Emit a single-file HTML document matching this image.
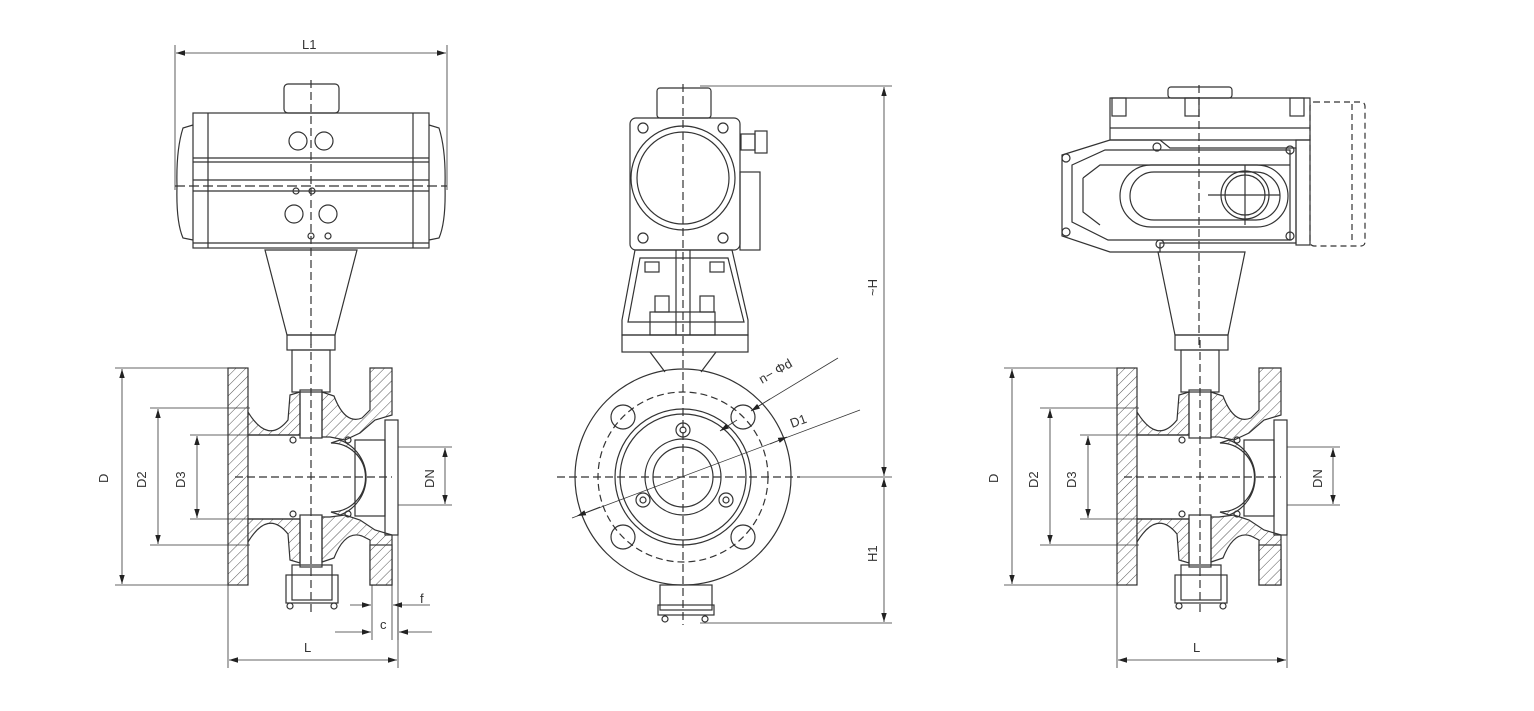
<!DOCTYPE html>
<html><head><meta charset="utf-8"><style>
html,body{margin:0;padding:0;background:#fff;}
svg{display:block;}
text{font-family:"Liberation Sans",sans-serif;font-size:13px;fill:#333;}
</style></head><body>
<svg width="1534" height="711" viewBox="0 0 1534 711" xmlns="http://www.w3.org/2000/svg">
<defs>
<pattern id="h" width="7" height="7" patternUnits="userSpaceOnUse" patternTransform="rotate(45)">
<rect width="7" height="7" fill="#fff"/><line x1="0" y1="0" x2="0" y2="7" stroke="#555" stroke-width="1"/>
</pattern>
<marker id="a" viewBox="0 0 10 10" refX="10" refY="5" markerWidth="9" markerHeight="9" orient="auto-start-reverse" markerUnits="userSpaceOnUse">
<path d="M0,2 L10,5 L0,8 Z" fill="#222"/></marker>
<g id="body" fill="none" stroke="#333" stroke-width="1.2">
<rect x="228" y="368" width="20" height="217" fill="url(#h)"/>
<path d="M248,412 Q268,445 288,420 L290,395 L300,392 L300,435 L248,435 Z" fill="url(#h)"/>
<path d="M248,542 Q268,509 288,534 L290,560 L300,563 L300,519 L248,519 Z" fill="url(#h)"/>
<path d="M322,392 L334,396 Q345,425 362,418 L370,410 L370,368 L392,368 L392,415 L375,420 L360,433 L345,440 L330,437 L322,437 Z" fill="url(#h)"/>
<path d="M322,562 L334,558 Q345,530 362,536 L370,540 L370,585 L392,585 L392,535 L375,530 L360,520 L345,515 L330,517 L322,517 Z" fill="url(#h)"/>
<rect x="370" y="545" width="22" height="40" fill="url(#h)"/>
<path d="M340,440 A40,40 0 0 1 340,515 L331,512 A34,34 0 0 0 331,443 Z" fill="url(#h)"/>
<rect x="300" y="390" width="22" height="48"/>
<rect x="300" y="515" width="22" height="52"/>
<rect x="292" y="350" width="38" height="42"/>
<line x1="248" y1="435" x2="300" y2="435"/><line x1="248" y1="519" x2="300" y2="519"/>
<rect x="355" y="440" width="30" height="76"/>
<rect x="385" y="420" width="13" height="115"/>
<rect x="292" y="565" width="40" height="35"/>
<rect x="286" y="575" width="52" height="28"/>
<circle cx="290" cy="606" r="3"/><circle cx="334" cy="606" r="3"/>
<circle cx="293" cy="440" r="3"/><circle cx="293" cy="514" r="3"/><circle cx="348" cy="440" r="3"/><circle cx="348" cy="514" r="3"/>
<line x1="311" y1="340" x2="311" y2="612" stroke-dasharray="8,4"/>
<line x1="235" y1="477" x2="392" y2="477" stroke-dasharray="8,4"/>
</g>
</defs>
<g fill="none" stroke="#333" stroke-width="1.2">
<!-- LEFT VIEW actuator -->
<line x1="175" y1="45" x2="175" y2="190" stroke-width="0.8"/><line x1="447" y1="45" x2="447" y2="190" stroke-width="0.8"/>
<line x1="176" y1="53" x2="446" y2="53" stroke-width="0.8" marker-start="url(#a)" marker-end="url(#a)"/>
<rect x="284" y="84" width="55" height="29" rx="4"/>
<rect x="193" y="113" width="236" height="135"/>
<line x1="208" y1="113" x2="208" y2="248"/><line x1="413" y1="113" x2="413" y2="248"/>
<path d="M193,125 L183,128 Q176,150 177,186 Q176,222 183,238 L193,240"/>
<path d="M429,125 L439,128 Q446,150 445,186 Q446,222 439,238 L429,240"/>
<line x1="193" y1="158" x2="429" y2="158"/><line x1="193" y1="162" x2="429" y2="162"/>
<line x1="193" y1="180" x2="429" y2="180"/><line x1="193" y1="191" x2="429" y2="191"/><line x1="193" y1="243" x2="429" y2="243"/>
<line x1="175" y1="186" x2="447" y2="186" stroke-dasharray="10,4"/>
<circle cx="298" cy="141" r="9"/><circle cx="324" cy="141" r="9"/>
<circle cx="296" cy="191" r="3"/><circle cx="312" cy="191" r="3"/>
<circle cx="294" cy="214" r="9"/><circle cx="328" cy="214" r="9"/>
<circle cx="311" cy="236" r="3"/><circle cx="328" cy="236" r="3"/>
<path d="M265,250 L357,250 L335,335 L287,335 Z"/>
<rect x="287" y="335" width="48" height="15"/>
<line x1="311" y1="80" x2="311" y2="345" stroke-dasharray="8,4"/>
<use href="#body"/>
<!-- left dims -->
<g stroke-width="0.8">
<line x1="115" y1="368" x2="228" y2="368"/><line x1="115" y1="585" x2="228" y2="585"/>
<line x1="122" y1="369" x2="122" y2="584" marker-start="url(#a)" marker-end="url(#a)"/>
<line x1="150" y1="408" x2="250" y2="408"/><line x1="150" y1="545" x2="250" y2="545"/>
<line x1="158" y1="409" x2="158" y2="544" marker-start="url(#a)" marker-end="url(#a)"/>
<line x1="190" y1="435" x2="248" y2="435"/><line x1="190" y1="519" x2="248" y2="519"/>
<line x1="197" y1="436" x2="197" y2="518" marker-start="url(#a)" marker-end="url(#a)"/>
<line x1="398" y1="447" x2="452" y2="447"/><line x1="398" y1="505" x2="452" y2="505"/>
<line x1="445" y1="448" x2="445" y2="504" marker-start="url(#a)" marker-end="url(#a)"/>
<line x1="228" y1="585" x2="228" y2="668"/><line x1="398" y1="535" x2="398" y2="668"/>
<line x1="229" y1="660" x2="397" y2="660" marker-start="url(#a)" marker-end="url(#a)"/>
<line x1="372" y1="585" x2="372" y2="640"/><line x1="392" y1="585" x2="392" y2="640"/>
<line x1="350" y1="605" x2="371" y2="605" marker-end="url(#a)"/><line x1="430" y1="605" x2="393" y2="605" marker-end="url(#a)"/>
<line x1="335" y1="632" x2="371" y2="632" marker-end="url(#a)"/><line x1="432" y1="632" x2="399" y2="632" marker-end="url(#a)"/>
<line x1="398" y1="605" x2="398" y2="640"/>
</g>
<!-- RIGHT VIEW -->
<use href="#body" x="889"/>
<path d="M1110,140 L1110,98 L1310,98 L1310,140 Z"/>
<rect x="1168" y="87" width="64" height="11" rx="3"/>
<rect x="1112" y="98" width="14" height="18"/><rect x="1185" y="98" width="14" height="18"/><rect x="1290" y="98" width="14" height="18"/>
<line x1="1110" y1="128" x2="1310" y2="128"/>
<path d="M1110,140 L1160,140 L1170,148 L1296,148 L1296,243 L1160,243 L1160,252 L1110,252 L1062,236 L1062,155 Z"/>
<path d="M1072,165 L1105,150 L1290,150 L1290,240 L1108,240 L1072,222 Z"/>
<path d="M1083,178 L1100,165 L1290,165 M1083,178 L1083,212 L1100,225"/>
<rect x="1120" y="165" width="168" height="62" rx="31"/>
<rect x="1130" y="172" width="150" height="48" rx="24"/>
<circle cx="1245" cy="195" r="24"/><circle cx="1245" cy="195" r="20"/>
<line x1="1208" y1="195" x2="1280" y2="195"/><line x1="1245" y1="165" x2="1245" y2="225"/>
<rect x="1296" y="140" width="14" height="105"/>
<rect x="1310" y="102" width="55" height="144" rx="4" stroke-dasharray="6,4"/>
<line x1="1352" y1="104" x2="1352" y2="244" stroke-dasharray="6,4"/>
<circle cx="1066" cy="158" r="4"/><circle cx="1066" cy="232" r="4"/><circle cx="1157" cy="147" r="4"/><circle cx="1290" cy="150" r="4"/><circle cx="1290" cy="236" r="4"/><circle cx="1160" cy="244" r="4"/>
<path d="M1158,252 L1245,252 L1228,335 L1175,335 Z"/>
<rect x="1175" y="335" width="53" height="15"/>
<line x1="1199" y1="85" x2="1199" y2="345" stroke-dasharray="8,4"/>
<g stroke-width="0.8">
<line x1="1004" y1="368" x2="1117" y2="368"/><line x1="1004" y1="585" x2="1117" y2="585"/>
<line x1="1012" y1="369" x2="1012" y2="584" marker-start="url(#a)" marker-end="url(#a)"/>
<line x1="1040" y1="408" x2="1139" y2="408"/><line x1="1040" y1="545" x2="1139" y2="545"/>
<line x1="1050" y1="409" x2="1050" y2="544" marker-start="url(#a)" marker-end="url(#a)"/>
<line x1="1080" y1="435" x2="1137" y2="435"/><line x1="1080" y1="519" x2="1137" y2="519"/>
<line x1="1088" y1="436" x2="1088" y2="518" marker-start="url(#a)" marker-end="url(#a)"/>
<line x1="1287" y1="447" x2="1340" y2="447"/><line x1="1287" y1="505" x2="1340" y2="505"/>
<line x1="1333" y1="448" x2="1333" y2="504" marker-start="url(#a)" marker-end="url(#a)"/>
<line x1="1117" y1="585" x2="1117" y2="668"/><line x1="1287" y1="535" x2="1287" y2="668"/>
<line x1="1118" y1="660" x2="1286" y2="660" marker-start="url(#a)" marker-end="url(#a)"/>
</g>
<!-- MIDDLE VIEW -->
<rect x="657" y="88" width="54" height="30" rx="3"/>
<rect x="630" y="118" width="110" height="132" rx="6"/>
<circle cx="683" cy="178" r="52"/><circle cx="683" cy="178" r="46"/>
<circle cx="643" cy="128" r="5"/><circle cx="723" cy="128" r="5"/><circle cx="643" cy="238" r="5"/><circle cx="723" cy="238" r="5"/>
<rect x="740" y="172" width="20" height="78"/>
<rect x="741" y="134" width="14" height="16"/><rect x="755" y="131" width="12" height="22"/>
<path d="M635,250 L732,250 L748,320 L748,335 L622,335 L622,320 Z"/>
<path d="M640,258 L728,258 L744,322 L628,322 Z"/>
<rect x="622" y="335" width="126" height="17"/>
<rect x="650" y="312" width="65" height="23"/><rect x="655" y="296" width="14" height="16"/><rect x="700" y="296" width="14" height="16"/>
<rect x="645" y="262" width="14" height="10"/><rect x="710" y="262" width="14" height="10"/>
<line x1="676" y1="250" x2="676" y2="335"/><line x1="690" y1="250" x2="690" y2="335"/>
<path d="M650,352 L665,372 M716,352 L701,372"/>
<circle cx="683" cy="477" r="108"/>
<circle cx="683" cy="477" r="85" stroke-dasharray="7,4"/>
<circle cx="683" cy="477" r="68"/><circle cx="683" cy="477" r="63"/>
<circle cx="683" cy="477" r="38"/><circle cx="683" cy="477" r="30"/>
<circle cx="623" cy="417" r="12"/><circle cx="743" cy="417" r="12"/><circle cx="623" cy="537" r="12"/><circle cx="743" cy="537" r="12"/>
<circle cx="683" cy="430" r="7"/><circle cx="683" cy="430" r="3"/><circle cx="643" cy="500" r="7"/><circle cx="643" cy="500" r="3"/><circle cx="726" cy="500" r="7"/><circle cx="726" cy="500" r="3"/>
<rect x="660" y="585" width="52" height="25"/><rect x="658" y="605" width="56" height="10"/>
<circle cx="665" cy="619" r="3"/><circle cx="705" cy="619" r="3"/>
<line x1="683" y1="84" x2="683" y2="625" stroke-dasharray="8,4"/>
<line x1="557" y1="477" x2="800" y2="477" stroke-dasharray="8,4"/>
<g stroke-width="0.8">
<line x1="800" y1="477" x2="892" y2="477"/>
<line x1="700" y1="86" x2="892" y2="86"/><line x1="700" y1="623" x2="892" y2="623"/>
<line x1="884" y1="87" x2="884" y2="476" marker-start="url(#a)" marker-end="url(#a)"/>
<line x1="884" y1="478" x2="884" y2="622" marker-start="url(#a)" marker-end="url(#a)"/>
<line x1="838" y1="358" x2="752" y2="410" /><line x1="770" y1="399" x2="751" y2="411" marker-end="url(#a)"/>
<line x1="720" y1="431" x2="737" y2="420" marker-start="url(#a)"/>
<line x1="572" y1="518" x2="860" y2="410"/>
<line x1="600" y1="507" x2="577" y2="516" marker-end="url(#a)"/>
<line x1="770" y1="444" x2="787" y2="437" marker-end="url(#a)"/>
</g>
</g>
<!-- labels -->
<text x="302" y="49">L1</text>
<text x="304" y="652">L</text>
<text x="1193" y="652">L</text>
<text x="420" y="603">f</text>
<text x="380" y="629">c</text>
<text transform="translate(108,483) rotate(-90)">D</text>
<text transform="translate(146,488) rotate(-90)">D2</text>
<text transform="translate(185,488) rotate(-90)">D3</text>
<text transform="translate(434,488) rotate(-90)">DN</text>
<text transform="translate(998,483) rotate(-90)">D</text>
<text transform="translate(1038,488) rotate(-90)">D2</text>
<text transform="translate(1076,488) rotate(-90)">D3</text>
<text transform="translate(1322,488) rotate(-90)">DN</text>
<text transform="translate(877,296) rotate(-90)">~H</text>
<text transform="translate(877,562) rotate(-90)">H1</text>
<text transform="translate(762,384) rotate(-30)">n− Φd</text>
<text transform="translate(792,428) rotate(-20)">D1</text>
</svg>
</body></html>
